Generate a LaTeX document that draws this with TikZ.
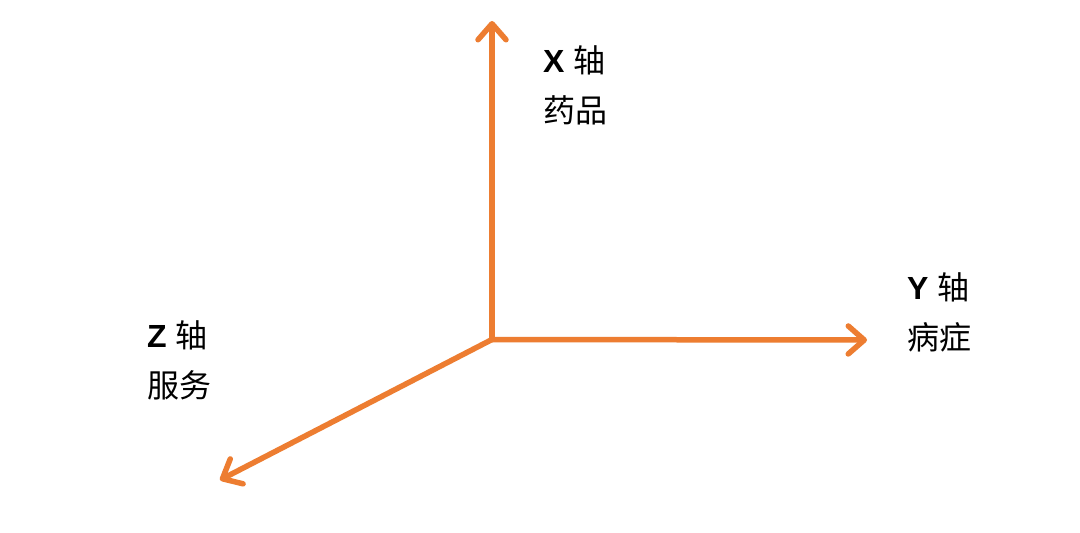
\documentclass[tikz,border=0pt]{standalone}
\usepackage{fontspec}
\setmainfont{Liberation Sans}
\newfontfamily\cjk{Noto Sans CJK SC}
\usetikzlibrary{arrows.meta}
\definecolor{axisorange}{HTML}{ED7D31}
\begin{document}
\begin{tikzpicture}[x=1pt,y=-1pt,
  axis/.style={draw=axisorange,line width=5.5pt,line cap=round,
    -{Straight Barb[length=16pt,width=28pt,round]}},
  axlabel/.style={anchor=west,align=left,inner sep=0pt,font=\fontsize{32}{50}\selectfont}]
\path[use as bounding box,fill=white] (0,0) rectangle (1080,533);
\coordinate (o) at (492,339.5);
\coordinate (xend) at (492,21);
\coordinate (yend) at (867,340);
\coordinate (zend) at (220,480);
\draw[axis] (o) -- (xend);
\draw[axis] (o) -- (yend);
\draw[axis] (o) -- (zend);
\node[axlabel] (xl) at (543,85) {\textbf{X} {\cjk 轴}\\{\cjk 药品}};
\node[axlabel] (yl) at (907,312) {\textbf{Y} {\cjk 轴}\\{\cjk 病症}};
\node[axlabel] (zl) at (147,360) {\textbf{Z} {\cjk 轴}\\{\cjk 服务}};
\end{tikzpicture}
\end{document}
